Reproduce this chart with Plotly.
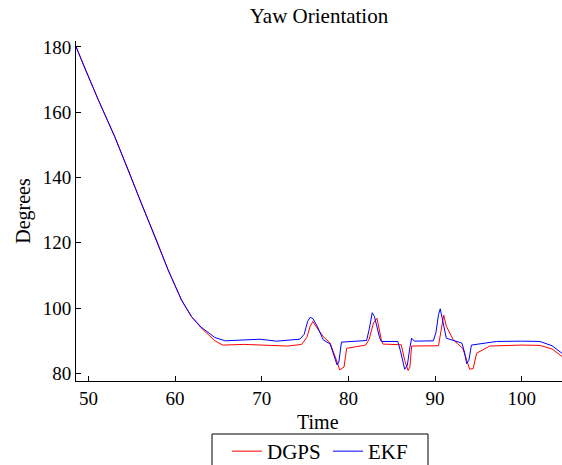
import plotly.graph_objects as go

# ---- data ----
t_dgps = [48.57, 49.5, 51.14, 53.04, 54.6, 56.1, 57.7, 59.2, 60.74, 61.9,
          63.0, 63.8, 64.6, 65.5, 68.0, 71.0, 73.0, 74.6, 75.2, 75.6,
          75.9, 76.5, 77.1, 77.9, 78.4, 78.7, 79.0, 79.5, 79.8, 82.0,
          82.4, 82.9, 83.3, 83.6, 83.8, 84.0, 86.1, 86.5, 86.9, 87.1,
          87.3, 90.4, 90.7, 91.0, 91.3, 92.1, 93.2, 93.6, 94.0, 94.4,
          94.8, 96.3, 100.0, 102.1, 103.5, 104.65]
dgps = [180.2, 174.0, 163.8, 152.5, 142.3, 132.1, 121.9, 111.7, 102.5, 97.4,
        94.0, 92.0, 90.0, 88.7, 88.9, 88.6, 88.4, 88.9, 91.0, 94.5,
        95.9, 93.5, 91.3, 89.3, 86.0, 83.5, 81.1, 82.0, 87.7, 88.7,
        90.5, 95.5, 96.9, 93.0, 90.3, 89.0, 88.8, 84.0, 80.9, 82.0,
        88.4, 88.5, 93.0, 97.9, 94.5, 90.3, 87.7, 84.5, 81.3, 81.5,
        86.2, 88.4, 88.7, 88.6, 87.5, 85.2]

t_ekf = [48.57, 49.5, 51.14, 53.04, 54.6, 56.1, 57.7, 59.2, 60.74, 61.9,
         63.0, 63.8, 64.6, 65.8, 67.5, 69.8, 71.7, 74.4, 74.9, 75.3,
         75.6, 75.9, 76.4, 77.1, 77.9, 78.4, 78.7, 78.9, 79.2, 82.1,
         82.4, 82.75, 83.0, 83.6, 83.8, 85.7, 86.0, 86.5, 86.8, 87.1,
         87.3, 87.6, 89.8, 90.1, 90.4, 90.6, 90.9, 91.3, 93.1, 93.4,
         93.65, 93.9, 94.2, 95.5, 97.1, 100.0, 102.1, 103.5, 104.65]
ekf = [180.0, 174.0, 163.8, 152.5, 142.3, 132.1, 121.9, 111.7, 102.5, 97.4,
       94.2, 92.6, 91.0, 90.0, 90.2, 90.5, 89.9, 90.5, 92.0, 96.0,
       97.2, 96.8, 94.5, 90.3, 89.0, 84.7, 82.6, 83.5, 89.6, 90.1,
       93.5, 98.6, 97.5, 91.0, 89.8, 89.8, 87.0, 81.3, 82.5, 88.0,
       90.8, 89.9, 90.0, 92.5, 98.0, 99.8, 96.0, 90.8, 89.3, 86.5,
       83.0, 84.0, 88.7, 89.2, 89.8, 89.9, 89.8, 88.5, 86.2]

x_ticks = [50, 60, 70, 80, 90, 100]
y_ticks = [80, 100, 120, 140, 160, 180]

FONT = "Liberation Serif, Times New Roman, serif"

W, H = 562, 465
ML, MR, MT, MB = 76, 0, 41, 84
PW, PH = W - ML - MR, H - MT - MB


def px_to_paper_x(px):
    return (px - ML) / PW


def px_to_paper_y(py):
    return (H - MB - py) / PH


fig = go.Figure()
fig.add_trace(go.Scatter(x=t_dgps, y=dgps, mode="lines", name="DGPS",
                         line=dict(color="#ff0000", width=1)))
fig.add_trace(go.Scatter(x=t_ekf, y=ekf, mode="lines", name="EKF",
                         line=dict(color="#0000ff", width=1)))

axis_common = dict(showline=True, linecolor="black", linewidth=1, mirror=False,
                   ticks="inside", ticklen=5, tickcolor="black", tickwidth=1,
                   showgrid=False, zeroline=False, automargin=False,
                   tickfont=dict(family=FONT, size=19, color="black"))

fig.update_xaxes(range=[48.57, 104.65], tickvals=x_ticks, **axis_common)
fig.update_yaxes(range=[77.7, 181.8], tickvals=y_ticks,
                 ticklabelstandoff=0,
                 title=dict(text="Degrees", font=dict(family=FONT, size=20, color="black"),
                            standoff=6),
                 **axis_common)

# x-axis title placed as text under the tick labels
fig.add_annotation(text="Time", xref="paper", yref="paper",
                   x=px_to_paper_x(318), y=px_to_paper_y(422),
                   xanchor="center", yanchor="middle", showarrow=False,
                   font=dict(family=FONT, size=20, color="black"))

# legend frame (open at the bottom edge of the picture, as in the reference)
fig.add_shape(type="rect", xref="paper", yref="paper",
              x0=px_to_paper_x(212), x1=px_to_paper_x(428),
              y0=px_to_paper_y(434), y1=px_to_paper_y(472),
              line=dict(color="black", width=1), fillcolor="rgba(0,0,0,0)",
              layer="above")

fig.update_layout(
    width=W, height=H, autosize=False,
    margin=dict(l=ML, r=MR, t=MT, b=MB, pad=0),
    paper_bgcolor="white", plot_bgcolor="white",
    font=dict(family=FONT, size=19, color="black"),
    title=dict(text="Yaw Orientation", x=0.5, xref="paper", xanchor="center",
               y=1 - 16 / H, yref="container", yanchor="middle",
               font=dict(family=FONT, size=21, color="black")),
    showlegend=True,
    legend=dict(orientation="h", x=px_to_paper_x(227), xanchor="left", xref="paper",
                y=(H - 431) / H, yanchor="top", yref="container",
                borderwidth=0, bgcolor="rgba(0,0,0,0)",
                entrywidth=56, entrywidthmode="pixels",
                font=dict(family=FONT, size=21, color="black")),
)

fig.write_html("out.html")
